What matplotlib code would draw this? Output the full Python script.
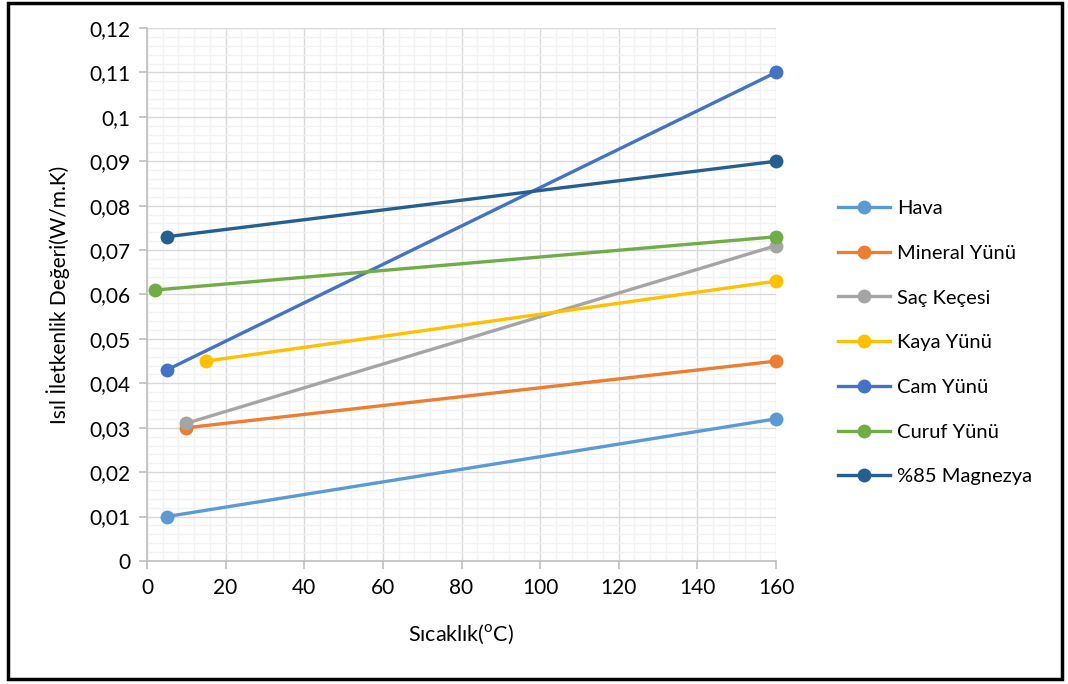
import matplotlib
matplotlib.use("Agg")
import matplotlib.pyplot as plt
from matplotlib.ticker import MultipleLocator, FuncFormatter
from matplotlib.patches import Rectangle

plt.rcParams['font.family'] = ['Lato', 'DejaVu Sans']
plt.rcParams['mathtext.fontset'] = 'custom'
plt.rcParams['mathtext.rm'] = 'Lato'

# Thermal conductivity of insulation materials vs. temperature
series_names = ["Hava", "Mineral Yünü", "Saç Keçesi", "Kaya Yünü",
                "Cam Yünü", "Curuf Yünü", "%85 Magnezya"]
temps = [
    [5, 160],
    [10, 160],
    [10, 160],
    [15, 160],
    [5, 160],
    [2, 160],
    [5, 160],
]
conductivity = [
    [0.010, 0.032],
    [0.030, 0.045],
    [0.031, 0.071],
    [0.045, 0.063],
    [0.043, 0.110],
    [0.061, 0.073],
    [0.073, 0.090],
]
colors = ["#5B9BD5", "#ED7D31", "#A5A5A5", "#FFC000",
          "#4472C4", "#70AD47", "#255E91"]

fig = plt.figure(figsize=(10.68, 6.84), dpi=100)
ax = fig.add_axes([147 / 1068, 1 - 561 / 684, (776 - 147) / 1068, (561 - 28) / 684])

for name, x, y, c in zip(series_names, temps, conductivity, colors):
    ax.plot(x, y, color=c, lw=2.4, marker='o', markersize=10,
            markeredgewidth=0, label=name, zorder=3, clip_on=False)

ax.set_xlim(0, 160)
ax.set_ylim(0, 0.12)
ax.xaxis.set_major_locator(MultipleLocator(20))
ax.xaxis.set_minor_locator(MultipleLocator(4))
ax.yaxis.set_major_locator(MultipleLocator(0.01))
ax.yaxis.set_minor_locator(MultipleLocator(0.002))

def comma_fmt(v, pos):
    s = f"{v:.2f}".rstrip('0').rstrip('.')
    if abs(v) < 1e-9:
        s = "0"
    return s.replace('.', ',')

ax.yaxis.set_major_formatter(FuncFormatter(comma_fmt))

ax.grid(which='major', color='#D9D9D9', lw=1.0, zorder=0)
ax.grid(which='minor', color='#F2F2F2', lw=1.0, zorder=0)
ax.set_axisbelow(True)

for side in ['top', 'right']:
    ax.spines[side].set_visible(False)
for side in ['left', 'bottom']:
    ax.spines[side].set_color('#BFBFBF')
    ax.spines[side].set_linewidth(1.2)

ax.tick_params(which='major', direction='out', length=6, width=1.2,
               color='#BFBFBF', labelsize=15, labelcolor='#000000', pad=6)
ax.tick_params(which='minor', length=0)

ax.set_xlabel('Sıcaklık($^{\\mathrm{o}}$C)', fontsize=15.5, labelpad=18)
ax.set_ylabel('Isıl İletkenlik Değeri(W/m.K)', fontsize=15, labelpad=14)

leg = ax.legend(loc='upper left', bbox_to_anchor=(830 / 1068, 1 - 192 / 684),
                bbox_transform=fig.transFigure, frameon=False, fontsize=14.5,
                handlelength=2.6, labelspacing=1.37, handletextpad=0.35,
                borderaxespad=0)

# Outer frame around the whole chart
fig.patches.append(Rectangle((8 / 1068, 5 / 684), 1054 / 1068, 676 / 684,
                             transform=fig.transFigure, fill=False,
                             edgecolor='black', lw=2.5))

fig.savefig('out.png', dpi=100)
